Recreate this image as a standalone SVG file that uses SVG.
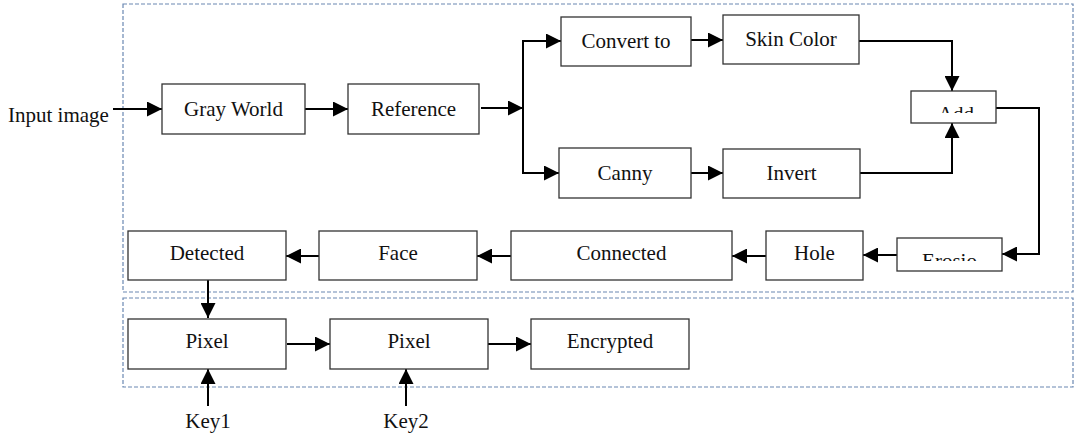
<svg xmlns="http://www.w3.org/2000/svg" width="1080" height="438" viewBox="0 0 1080 438">
  <style>
    .box { fill: #ffffff; stroke: #333333; stroke-width: 1.3; }
    .frame { fill: none; stroke: #6a88b2; stroke-width: 1.2; stroke-dasharray: 4 2; }
    .wire { fill: none; stroke: #000000; stroke-width: 2; }
    text { font-family: "Liberation Serif", "Times New Roman", serif; font-size: 21px; fill: #111111; }
    .c { text-anchor: middle; }
  </style>
  <defs>
    <marker id="arrow" viewBox="0 0 15 15" refX="15" refY="7.5" markerWidth="15" markerHeight="15" markerUnits="userSpaceOnUse" orient="auto">
      <path d="M0,0 L15,7.5 L0,15 Z" fill="#000000"/>
    </marker>
    <clipPath id="clipAdd"><rect x="911" y="91" width="85" height="22"/></clipPath>
    <clipPath id="clipErosion"><rect x="897" y="238" width="105" height="23"/></clipPath>
  </defs>

  <!-- stage frames -->
  <g id="frames">
    <rect class="frame" x="123" y="4" width="950" height="288"/>
    <rect class="frame" x="123" y="298" width="950" height="89"/>
  </g>

  <!-- connectors -->
  <g id="connectors">
    <line class="wire" x1="113" y1="109" x2="162" y2="109" marker-end="url(#arrow)"/>
    <line class="wire" x1="305" y1="109" x2="348" y2="109" marker-end="url(#arrow)"/>
    <line class="wire" x1="481" y1="108" x2="523" y2="108" marker-end="url(#arrow)"/>
    <polyline class="wire" points="523,41 523,173"/>
    <line class="wire" x1="522" y1="41" x2="561" y2="41" marker-end="url(#arrow)"/>
    <line class="wire" x1="522" y1="173" x2="559" y2="173" marker-end="url(#arrow)"/>
    <line class="wire" x1="691" y1="40" x2="723" y2="40" marker-end="url(#arrow)"/>
    <line class="wire" x1="691" y1="173" x2="723" y2="173" marker-end="url(#arrow)"/>
    <polyline class="wire" points="859,41 952,41 952,91" marker-end="url(#arrow)"/>
    <polyline class="wire" points="860,173 952,173 952,123" marker-end="url(#arrow)"/>
    <polyline class="wire" points="996,108 1039,108 1039,254 1002,254" marker-end="url(#arrow)"/>
    <line class="wire" x1="897" y1="255" x2="863" y2="255" marker-end="url(#arrow)"/>
    <line class="wire" x1="766" y1="256" x2="732" y2="256" marker-end="url(#arrow)"/>
    <line class="wire" x1="511" y1="256" x2="477" y2="256" marker-end="url(#arrow)"/>
    <line class="wire" x1="319" y1="256" x2="286" y2="256" marker-end="url(#arrow)"/>
    <line class="wire" x1="208" y1="280" x2="208" y2="318" marker-end="url(#arrow)"/>
    <line class="wire" x1="287" y1="344" x2="330" y2="344" marker-end="url(#arrow)"/>
    <line class="wire" x1="488" y1="344" x2="531" y2="344" marker-end="url(#arrow)"/>
    <line class="wire" x1="208" y1="406" x2="208" y2="369" marker-end="url(#arrow)"/>
    <line class="wire" x1="406" y1="406" x2="406" y2="369" marker-end="url(#arrow)"/>
  </g>

  <!-- free labels -->
  <g id="input-label"><text x="8" y="122">Input image</text></g>
  <g id="key1"><text class="c" x="208" y="428">Key1</text></g>
  <g id="key2"><text class="c" x="406" y="428">Key2</text></g>

  <!-- processing nodes -->
  <g id="gray-world">
    <rect class="box" x="162" y="84" width="143" height="50"/>
    <text class="c" x="233.5" y="116">Gray World</text>
  </g>
  <g id="reference">
    <rect class="box" x="348" y="84" width="131" height="50"/>
    <text class="c" x="413.5" y="116">Reference</text>
  </g>
  <g id="convert-to">
    <rect class="box" x="561" y="17" width="130" height="49"/>
    <text class="c" x="626" y="48">Convert to</text>
  </g>
  <g id="skin-color">
    <rect class="box" x="723" y="15" width="136" height="49"/>
    <text class="c" x="791" y="46">Skin Color</text>
  </g>
  <g id="canny">
    <rect class="box" x="559" y="148" width="132" height="50"/>
    <text class="c" x="625" y="180">Canny</text>
  </g>
  <g id="invert">
    <rect class="box" x="723" y="149" width="137" height="49"/>
    <text class="c" x="791.5" y="180">Invert</text>
  </g>
  <g id="add">
    <rect class="box" x="911" y="91" width="85" height="32"/>
    <text class="c" x="956" y="121" clip-path="url(#clipAdd)">Add</text>
  </g>
  <g id="erosion">
    <rect class="box" x="897" y="238" width="105" height="33"/>
    <text class="c" x="949.5" y="268" clip-path="url(#clipErosion)">Erosio</text>
  </g>
  <g id="hole">
    <rect class="box" x="766" y="231" width="97" height="49"/>
    <text class="c" x="814.5" y="260">Hole</text>
  </g>
  <g id="connected">
    <rect class="box" x="511" y="231" width="221" height="49"/>
    <text class="c" x="621.5" y="260">Connected</text>
  </g>
  <g id="face">
    <rect class="box" x="319" y="231" width="158" height="49"/>
    <text class="c" x="398" y="260">Face</text>
  </g>
  <g id="detected">
    <rect class="box" x="128" y="231" width="158" height="49"/>
    <text class="c" x="207" y="260">Detected</text>
  </g>
  <g id="pixel-1">
    <rect class="box" x="128" y="319" width="158" height="50"/>
    <text class="c" x="207" y="348">Pixel</text>
  </g>
  <g id="pixel-2">
    <rect class="box" x="330" y="319" width="158" height="50"/>
    <text class="c" x="409" y="348">Pixel</text>
  </g>
  <g id="encrypted">
    <rect class="box" x="531" y="319" width="158" height="50"/>
    <text class="c" x="610" y="348">Encrypted</text>
  </g>
</svg>
